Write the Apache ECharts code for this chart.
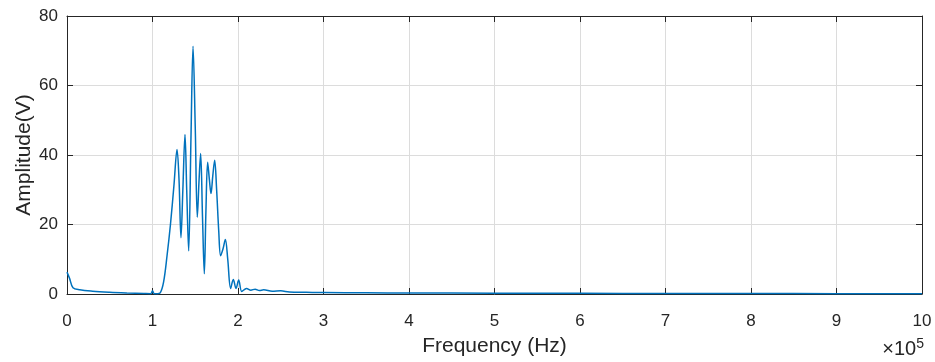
<!DOCTYPE html>
<html>
<head>
<meta charset="utf-8">
<script src="https://cdn.jsdelivr.net/npm/echarts@6/dist/echarts.min.js"></script>
<style>
  html, body { margin: 0; padding: 0; background: #fff; }
  #chart { width: 935px; height: 362px; }
</style>
</head>
<body>
<div id="chart"></div>
<script>
// frequency in units of 1e5 Hz, amplitude in V
const freq = [
  0, 0.03, 0.07, 0.15, 0.3, 0.5, 0.7, 0.9, 0.98, 1.0, 1.02, 1.06, 1.09,
  1.13, 1.17, 1.21, 1.25, 1.287, 1.31, 1.333, 1.355, 1.38, 1.40, 1.423,
  1.45, 1.474, 1.50, 1.524, 1.545, 1.563, 1.585, 1.606, 1.625, 1.645,
  1.665, 1.684, 1.705, 1.727, 1.75, 1.775, 1.797, 1.825, 1.852, 1.88,
  1.914, 1.945, 1.977, 2.008, 2.043, 2.07, 2.10, 2.15, 2.2, 2.25, 2.3,
  2.4, 2.5, 2.6, 2.8, 3.0, 3.5, 4.0, 5.0, 6.0, 7.0, 8.0, 9.0, 10.0
];
const amplitude = [
  6.3, 4.5, 1.8, 1.2, 0.8, 0.5, 0.3, 0.15, 0.1, 0.9, 0.1, 0.1, 0.3,
  3.5, 11, 20, 31, 41.6, 33, 16.2, 30, 45.9, 30, 12.4,
  45, 71.3, 48, 22.1, 33, 40.4, 22, 5.8, 24, 37.9,
  33, 28.9, 34, 38.5, 30, 18, 11.0, 13, 15.7, 10,
  1.6, 4.2, 1.6, 4.0, 0.7, 1.2, 1.6, 1.1, 1.4, 1.0, 1.2,
  0.8, 0.9, 0.6, 0.5, 0.4, 0.35, 0.3, 0.25, 0.2, 0.15, 0.12, 0.1, 0.08
];
const xTicks = [0, 1, 2, 3, 4, 5, 6, 7, 8, 9, 10];
const yTicks = [0, 20, 40, 60, 80];

const font = 'Liberation Sans, Arial, Helvetica, sans-serif';
const textColor = '#262626';

const axisCommon = {
  axisLine: { show: true, onZero: false, lineStyle: { color: '#262626', width: 1 } },
  axisTick: { show: true, inside: true, length: 6, lineStyle: { color: '#262626' } },
  splitLine: { show: true, lineStyle: { color: '#dcdcdc', width: 1 } }
};

const chart = echarts.init(document.getElementById('chart'));
chart.setOption({
  animation: false,
  backgroundColor: '#ffffff',
  grid: { left: 67, right: 13, top: 16, bottom: 63 },
  xAxis: [
    Object.assign({}, axisCommon, {
      type: 'value',
      min: 0, max: 10, interval: 1,
      name: 'Frequency (Hz)',
      nameLocation: 'middle',
      nameGap: 42,
      nameMoveOverlap: false,
      nameTextStyle: { fontFamily: font, fontSize: 21, color: textColor },
      axisLabel: {
        fontFamily: font, fontSize: 17, color: textColor, margin: 19,
        formatter: v => xTicks.includes(v) ? String(v) : ''
      }
    }),
    Object.assign({}, axisCommon, {
      type: 'value', position: 'top',
      min: 0, max: 10, interval: 1,
      axisLabel: { show: false },
      splitLine: { show: false }
    })
  ],
  yAxis: [
    Object.assign({}, axisCommon, {
      type: 'value',
      min: 0, max: 80, interval: 20,
      name: 'Amplitude(V)',
      nameLocation: 'middle',
      nameGap: 32,
      nameMoveOverlap: false,
      nameTextStyle: { fontFamily: font, fontSize: 21, color: textColor },
      axisLabel: {
        fontFamily: font, fontSize: 17, color: textColor, margin: 9,
        formatter: v => yTicks.includes(v) ? String(v) : ''
      }
    }),
    Object.assign({}, axisCommon, {
      type: 'value', position: 'right',
      min: 0, max: 80, interval: 20,
      axisLabel: { show: false },
      splitLine: { show: false }
    })
  ],
  graphic: [{
    type: 'text',
    right: 11,
    top: 337,
    style: {
      text: '×10{sup|5}',
      font: '20px ' + font,
      fill: textColor,
      rich: {
        sup: { fontSize: 14, fontFamily: font, fill: textColor, verticalAlign: 'top', padding: [0, 0, 11, 0] }
      }
    }
  }],
  series: [{
    type: 'line',
    data: freq.map((f, i) => [f, amplitude[i]]),
    showSymbol: false,
    smooth: 0.35,
    lineStyle: { color: '#0072BD', width: 1.5 },
    itemStyle: { color: '#0072BD' }
  }]
});
</script>
</body>
</html>
